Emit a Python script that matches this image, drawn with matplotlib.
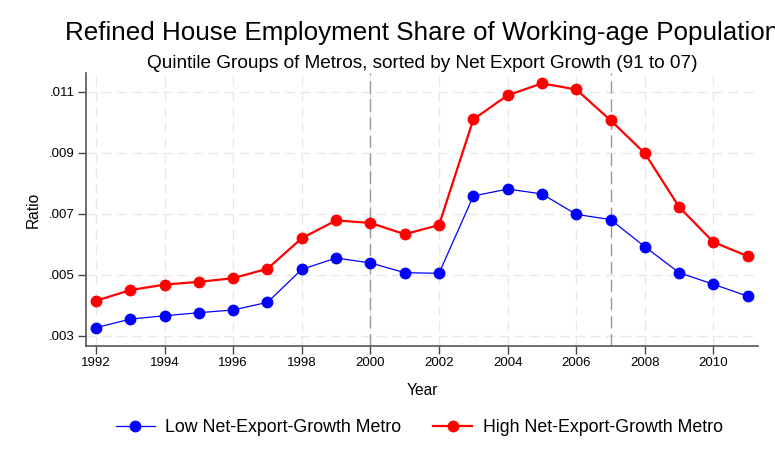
import matplotlib
matplotlib.use("Agg")
import matplotlib.pyplot as plt

years = list(range(1992, 2012))
low_growth = [0.00327, 0.00355, 0.00366, 0.00376, 0.00385, 0.00410, 0.00518, 0.00555, 0.00539, 0.00507,
              0.00505, 0.00758, 0.00781, 0.00765, 0.00698, 0.00681, 0.00592, 0.00507, 0.00469, 0.00430]
high_growth = [0.00415, 0.00450, 0.00468, 0.00477, 0.00489, 0.00520, 0.00620, 0.00678, 0.00670, 0.00633,
               0.00663, 0.01009, 0.01088, 0.01127, 0.01107, 0.01006, 0.00898, 0.00722, 0.00607, 0.00561]
x_ticks = list(range(1992, 2011, 2))
y_ticks = [0.003, 0.005, 0.007, 0.009, 0.011]
y_labels = ['.003', '.005', '.007', '.009', '.011']
event_years = [2000, 2007]

plt.rcParams['font.family'] = ['Liberation Sans', 'DejaVu Sans']

fig = plt.figure(figsize=(7.75, 4.65), dpi=100)
ax = fig.add_axes([0.111, 0.2566, 0.8667, 0.5858])

# 网格线
for yt in y_ticks:
    ax.axhline(yt, color='#e8e8e8', lw=1, dashes=(7, 4), zorder=0)
for xt in x_ticks:
    ax.axvline(xt, color='#e8e8e8', lw=1, dashes=(7, 4), zorder=0)
for ev in event_years:
    ax.axvline(ev, color='#999999', lw=1, dashes=(9, 4), zorder=1)

ax.plot(years, low_growth, '-o', color='#0000ff', lw=0.9, markersize=7.5,
        label='Low Net-Export-Growth Metro', zorder=3)
ax.plot(years, high_growth, '-o', color='#ff0000', lw=1.6, markersize=7.5,
        label='High Net-Export-Growth Metro', zorder=3)

ax.set_xlim(1991.71, 2011.29)
ax.set_ylim(0.00268, 0.0116)
ax.set_xticks(x_ticks)
ax.set_yticks(y_ticks)
ax.set_yticklabels(y_labels)
ax.tick_params(axis='both', direction='out', length=6, width=1, color='#444444',
               labelsize=9.5, pad=2)
for side in ['top', 'right']:
    ax.spines[side].set_visible(False)
for side in ['left', 'bottom']:
    ax.spines[side].set_color('#555555')
    ax.spines[side].set_linewidth(1.2)

fig.text(0.5445, 0.914, 'Refined House Employment Share of Working-age Population',
         ha='center', va='baseline', fontsize=18.75)
fig.text(0.5445, 0.8538, 'Quintile Groups of Metros, sorted by Net Export Growth (91 to 07)',
         ha='center', va='baseline', fontsize=13.7)
fig.text(0.5445, 0.1505, 'Year', ha='center', va='baseline', fontsize=11.2)
fig.text(0.0426, 0.5495, 'Ratio', ha='center', va='center', rotation=90, fontsize=11.2)

fig.legend(loc='center', bbox_to_anchor=(0.541, 0.08), ncol=2, frameon=False,
           fontsize=12.75, handlelength=2.2, handletextpad=0.6, columnspacing=1.8)

plt.savefig("out.png", dpi=100)
